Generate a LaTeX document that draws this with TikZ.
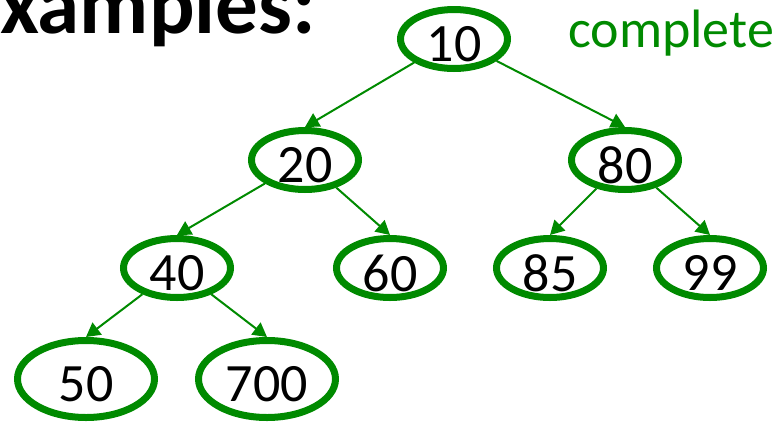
\documentclass[tikz,border=0pt]{standalone}
\usepackage{fontspec}
\setmainfont{Carlito}
\usetikzlibrary{shapes.geometric,arrows.meta}
\definecolor{treegreen}{RGB}{0,138,0}
\begin{document}
\begin{tikzpicture}[x=1pt,y=-1pt,
  keyfont/.style={font=\fontsize{54}{60}\selectfont},
  keynode/.style={ellipse, draw=treegreen, line width=7pt, inner sep=0pt,
    minimum width=107pt, minimum height=59pt,
    label={[keyfont, text=black, yshift=-5pt]center:#1}},
  bigkey/.style={keynode=#1, minimum width=137pt, minimum height=77pt},
  edge/.style={draw=treegreen, line width=2pt,
    -{Triangle[length=14pt,width=15pt]}}]
\useasboundingbox (0,0) rectangle (774,421);

% heading and caption
\node[anchor=base west, inner sep=0pt, font=\bfseries\fontsize{85}{95}\selectfont] (title) at (0,33) {xamples:};
\node[anchor=base west, inner sep=0pt, keyfont, text=treegreen] (kind) at (568,47) {complete};

% the keys of the heap
\node[keynode=10] (n10) at (454,39) {};
\node[keynode=20] (n20) at (305,160) {};
\node[keynode=80] (n80) at (625,160) {};
\node[keynode=40] (n40) at (177,268) {};
\node[keynode=60] (n60) at (390,268) {};
\node[keynode=85] (n85) at (550,268) {};
\node[keynode=99] (n99) at (710,268) {};
\node[bigkey=50] (n50) at (86,379) {};
\node[bigkey=700] (n700) at (267,379) {};

% parent-to-child links
\draw[edge] (n10) -- (n20.north);
\draw[edge] (n10) -- (n80.north);
\draw[edge] (n20) -- (n40.north);
\draw[edge] (n20) -- (n60.north);
\draw[edge] (n80) -- (n85.north);
\draw[edge] (n80) -- (n99.north);
\draw[edge] (n40) -- (n50.north);
\draw[edge] (n40) -- (n700.north);
\end{tikzpicture}
\end{document}
